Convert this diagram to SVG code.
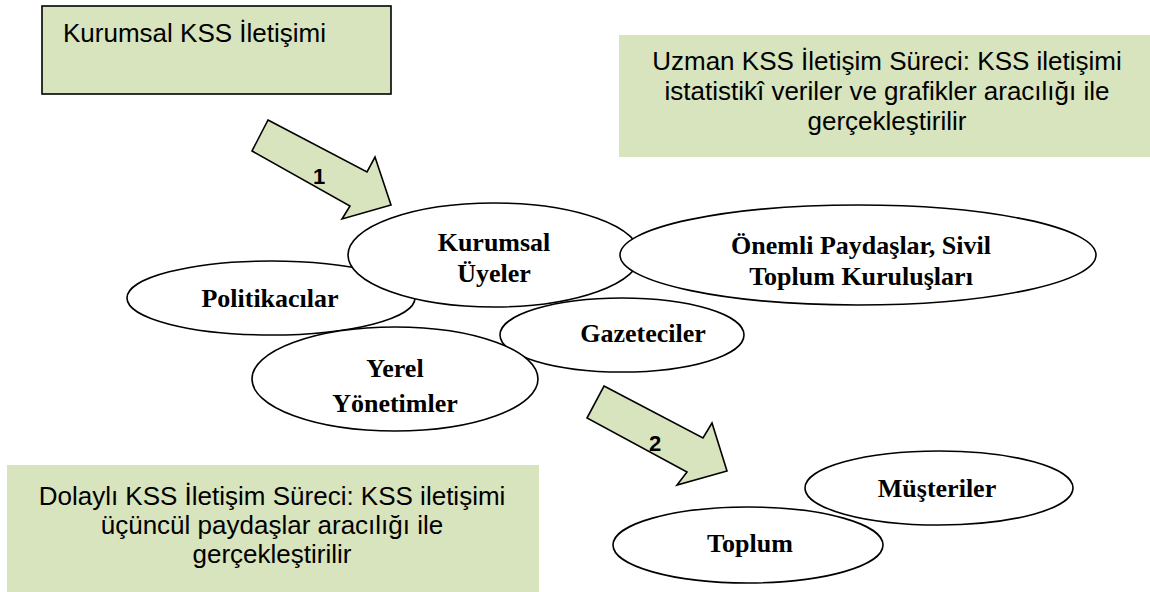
<svg xmlns="http://www.w3.org/2000/svg" width="1150" height="592" viewBox="0 0 1150 592">
<style>
.box{fill:#d7e4bd}
.bt{font-family:"Liberation Sans",Arial,sans-serif;font-size:26px;fill:#000}
.el{fill:#fff;stroke:#000;stroke-width:1.6}
.et{font-family:"Liberation Serif","Times New Roman",serif;font-size:26px;font-weight:bold;fill:#000;text-anchor:middle}
.arr{fill:#d7e4bd;stroke:#000;stroke-width:1.6;stroke-linejoin:miter}
.num{font-family:"Liberation Sans",Arial,sans-serif;font-size:22px;font-weight:bold;fill:#000;text-anchor:middle}
</style>
<rect width="1150" height="592" fill="#fff"/>
<g id="box-kurumsal">
<rect class="box" x="42" y="6" width="349" height="88" stroke="#000" stroke-width="1.6"/>
<text class="bt" x="63" y="42">Kurumsal KSS İletişimi</text>
</g>
<g id="box-uzman">
<rect class="box" x="619" y="35" width="531" height="122"/>
<text class="bt" text-anchor="middle"><tspan x="887" y="70">Uzman KSS İletişim Süreci: KSS iletişimi</tspan><tspan x="887" y="100">istatistikî veriler ve grafikler aracılığı ile</tspan><tspan x="887" y="130">gerçekleştirilir</tspan></text>
</g>
<g id="box-dolayli">
<rect class="box" x="7" y="465" width="532" height="127"/>
<text class="bt" text-anchor="middle"><tspan x="272" y="505">Dolaylı KSS İletişim Süreci: KSS iletişimi</tspan><tspan x="272" y="534">üçüncül paydaşlar aracılığı ile</tspan><tspan x="272" y="563">gerçekleştirilir</tspan></text>
</g>
<g id="connectors">
<polygon class="arr" points="268,120 367,172 375,157 391,205 342,219 350,206 252,151"/>
<text class="num" x="319" y="184">1</text>
<polygon class="arr" points="604,386 703,438 712,423 727,471 677,485 687,472 587,418"/>
<text class="num" x="655" y="451">2</text>
</g>
<g id="node-politikacilar">
<ellipse class="el" cx="271" cy="298" rx="144" ry="37"/>
<text class="et" x="270" y="307">Politikacılar</text>
</g>
<g id="node-kurumsal-uyeler">
<ellipse class="el" cx="494" cy="255" rx="146" ry="52"/>
<text class="et" x="494" y="251">Kurumsal</text>
<text class="et" x="494" y="282">Üyeler</text>
</g>
<g id="node-onemli-paydaslar">
<ellipse class="el" cx="858" cy="255" rx="238" ry="50"/>
<text class="et" x="861" y="254">Önemli Paydaşlar, Sivil</text>
<text class="et" x="861" y="285">Toplum Kuruluşları</text>
</g>
<g id="node-gazeteciler">
<ellipse class="el" cx="622" cy="335" rx="122" ry="37"/>
<text class="et" x="643" y="342">Gazeteciler</text>
</g>
<g id="node-yerel-yonetimler">
<ellipse class="el" cx="395" cy="379" rx="143" ry="52"/>
<text class="et" x="395" y="377">Yerel</text>
<text class="et" x="395" y="412">Yönetimler</text>
</g>
<g id="node-musteriler">
<ellipse class="el" cx="939" cy="488" rx="134" ry="37"/>
<text class="et" x="937" y="497">Müşteriler</text>
</g>
<g id="node-toplum">
<ellipse class="el" cx="748" cy="545" rx="135" ry="38"/>
<text class="et" x="750" y="552">Toplum</text>
</g>
</svg>
